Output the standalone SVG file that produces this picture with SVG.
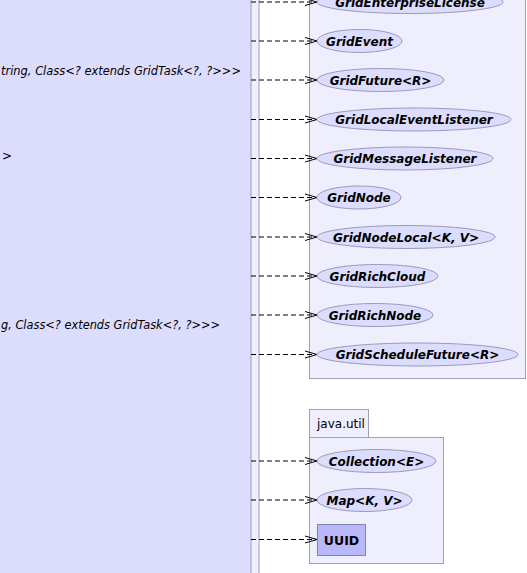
<svg xmlns="http://www.w3.org/2000/svg" width="527" height="573" viewBox="0 0 527 573">
<style>
.cls{fill:#dcdcfc;stroke:none}
.strip{fill:#eeeefc;stroke:#9c9cb4;stroke-width:1}
.pkg{fill:#eeeefc;stroke:#a0a0b8;stroke-width:1}
.ifc{fill:#dcdcfc;stroke:#9a9abc;stroke-width:1}
.conc{fill:#b8b8fa;stroke:#8484b0;stroke-width:1}
.lbl{font-family:"DejaVu Sans",sans-serif;font-size:12px;font-weight:bold;font-style:italic;fill:#000;text-anchor:middle}
.lblc{font-family:"DejaVu Sans",sans-serif;font-size:12.5px;font-weight:bold;fill:#000;text-anchor:middle}
.pname{font-family:"DejaVu Sans",sans-serif;font-size:12px;fill:#000}
.member{font-family:"DejaVu Sans",sans-serif;font-size:12px;font-style:italic;fill:#000}
.dep{stroke:#000;stroke-width:1;stroke-dasharray:5,3;fill:none;marker-end:url(#arr)}
</style>
<defs>
<marker id="arr" markerWidth="14" markerHeight="10" refX="13" refY="5" orient="auto" markerUnits="userSpaceOnUse">
<path d="M1,1.5 L13,5 L1,8.5" fill="none" stroke="#000" stroke-width="1" stroke-dasharray="none"/>
</marker>
</defs>
<rect width="527" height="573" fill="#ffffff"/>
<g id="mainClass">
<rect class="cls" x="-10" y="-10" width="261" height="600"/>
<rect class="strip" x="251" y="-10" width="8" height="600"/>
<text class="member" x="1" y="75" textLength="240" lengthAdjust="spacingAndGlyphs">tring, Class&lt;? extends GridTask&lt;?, ?&gt;&gt;&gt;</text>
<text class="member" x="2" y="160">&gt;</text>
<text class="member" x="1" y="329" textLength="219" lengthAdjust="spacingAndGlyphs">g, Class&lt;? extends GridTask&lt;?, ?&gt;&gt;&gt;</text>
</g>
<g id="pkg-grid">
<rect class="pkg" x="309.5" y="-20" width="216" height="398.5"/>
</g>
<g id="pkg-java-util">
<rect class="pkg" x="309.5" y="409.5" width="59" height="28"/>
<rect class="pkg" x="309.5" y="437.5" width="134" height="126"/>
<text class="pname" x="317" y="428">java.util</text>
</g>
<g id="connectors">
<line class="dep" x1="251" y1="2" x2="317" y2="2"/>
<line class="dep" x1="251" y1="41" x2="317" y2="41"/>
<line class="dep" x1="251" y1="80" x2="317" y2="80"/>
<line class="dep" x1="251" y1="119.5" x2="317" y2="119.5"/>
<line class="dep" x1="251" y1="158.5" x2="317" y2="158.5"/>
<line class="dep" x1="251" y1="197.5" x2="317" y2="197.5"/>
<line class="dep" x1="251" y1="237" x2="317" y2="237"/>
<line class="dep" x1="251" y1="276" x2="317" y2="276"/>
<line class="dep" x1="251" y1="315" x2="317" y2="315"/>
<line class="dep" x1="251" y1="354.5" x2="317" y2="354.5"/>
<line class="dep" x1="251" y1="461" x2="317" y2="461"/>
<line class="dep" x1="251" y1="500" x2="317" y2="500"/>
<line class="dep" x1="251" y1="539.5" x2="317" y2="539.5"/>
</g>
<g id="GridEnterpriseLicense"><ellipse class="ifc" cx="410" cy="2" rx="93" ry="11.5"/><text class="lbl" x="410" y="6.5">GridEnterpriseLicense</text></g>
<g id="GridEvent"><ellipse class="ifc" cx="359.5" cy="41" rx="42.5" ry="11.5"/><text class="lbl" x="359.5" y="45.5">GridEvent</text></g>
<g id="GridFuture"><ellipse class="ifc" cx="380.5" cy="80" rx="63.5" ry="11.5"/><text class="lbl" x="380.5" y="84.5">GridFuture&lt;R&gt;</text></g>
<g id="GridLocalEventListener"><ellipse class="ifc" cx="414" cy="119.5" rx="97" ry="11.5"/><text class="lbl" x="414" y="124">GridLocalEventListener</text></g>
<g id="GridMessageListener"><ellipse class="ifc" cx="405" cy="158.5" rx="88" ry="11.5"/><text class="lbl" x="405" y="163">GridMessageListener</text></g>
<g id="GridNode"><ellipse class="ifc" cx="359" cy="197.5" rx="42" ry="11.5"/><text class="lbl" x="359" y="202">GridNode</text></g>
<g id="GridNodeLocal"><ellipse class="ifc" cx="406" cy="237" rx="89" ry="11.5"/><text class="lbl" x="406" y="241.5">GridNodeLocal&lt;K, V&gt;</text></g>
<g id="GridRichCloud"><ellipse class="ifc" cx="377.5" cy="276" rx="60.5" ry="11.5"/><text class="lbl" x="377.5" y="280.5">GridRichCloud</text></g>
<g id="GridRichNode"><ellipse class="ifc" cx="375" cy="315" rx="58" ry="11.5"/><text class="lbl" x="375" y="319.5">GridRichNode</text></g>
<g id="GridScheduleFuture"><ellipse class="ifc" cx="417.5" cy="354.5" rx="100.5" ry="11.5"/><text class="lbl" x="417.5" y="359">GridScheduleFuture&lt;R&gt;</text></g>
<g id="Collection"><ellipse class="ifc" cx="376.5" cy="461" rx="59.5" ry="11.5"/><text class="lbl" x="376.5" y="465.5">Collection&lt;E&gt;</text></g>
<g id="Map"><ellipse class="ifc" cx="364.5" cy="500" rx="47.5" ry="11.5"/><text class="lbl" x="364.5" y="504.5">Map&lt;K, V&gt;</text></g>
<g id="UUID"><rect class="conc" x="317.5" y="524.5" width="48" height="31"/><text class="lblc" x="341.5" y="544.5">UUID</text></g>
</svg>
